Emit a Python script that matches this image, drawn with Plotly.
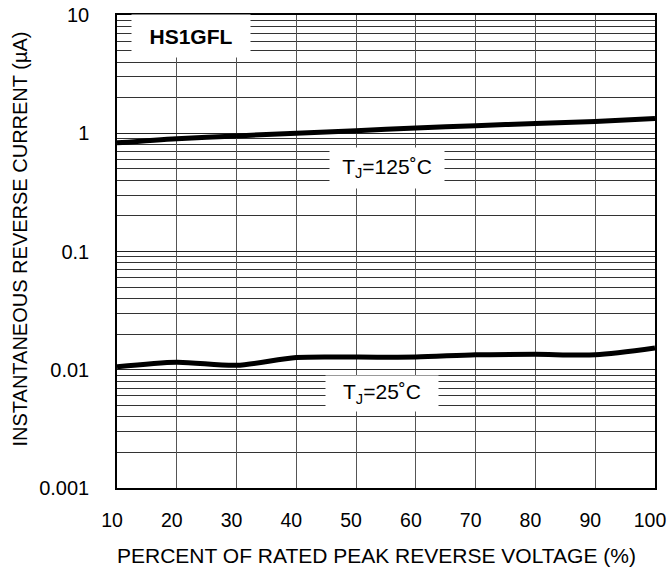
import plotly.graph_objects as go

voltage_pct = [10, 20, 30, 40, 50, 60, 70, 80, 90, 100]
current_125 = [0.83, 0.90, 0.95, 1.0, 1.05, 1.11, 1.16, 1.21, 1.26, 1.33]
current_25 = [0.0106, 0.0116, 0.0109, 0.0127, 0.0128, 0.0128, 0.0134, 0.0135, 0.0134, 0.0153]

x_ticks = [10, 20, 30, 40, 50, 60, 70, 80, 90, 100]
y_tickvals = [0.001, 0.01, 0.1, 1, 10]
y_ticktext = ["0.001", "0.01", "0.1", "1", "10"]

FONT = "Liberation Sans, Arial, sans-serif"

fig = go.Figure()
for ys in (current_125, current_25):
    fig.add_trace(go.Scatter(
        x=voltage_pct, y=ys, mode="lines",
        line=dict(color="black", width=5, shape="spline", smoothing=0.8),
        showlegend=False, hoverinfo="skip"))

fig.update_layout(
    width=668, height=571,
    margin=dict(l=117, r=13, t=15, b=83),
    paper_bgcolor="white", plot_bgcolor="white",
    font=dict(family=FONT, size=20, color="black"),
    showlegend=False,
)

fig.update_xaxes(
    range=[10, 100], tickmode="array", tickvals=x_ticks,
    ticktext=[str(v) for v in x_ticks],
    showgrid=True, gridcolor="#555", gridwidth=1,
    showline=True, linecolor="black", linewidth=1.5, mirror=True,
    ticks="", ticklen=0, zeroline=False, automargin=False,
    tickfont=dict(size=19.5), ticklabelstandoff=14, ticklabelshift=-5,
    ticklabeloverflow="allow",
    title=None,
)
fig.update_yaxes(
    type="log", range=[-3, 1], tickmode="array",
    tickvals=y_tickvals, ticktext=y_ticktext,
    showgrid=True, gridcolor="#222", gridwidth=1,
    minor=dict(dtick="D1", showgrid=True, gridcolor="#333", gridwidth=1, ticks=""),
    showline=True, linecolor="black", linewidth=1.5, mirror=True,
    ticks="", ticklen=0, zeroline=False, automargin=False,
    tickfont=dict(size=20), ticklabelstandoff=22, ticklabeloverflow="allow",
    title=None,
)

# axis titles
fig.add_annotation(text="PERCENT OF RATED PEAK REVERSE VOLTAGE (%)",
                   xref="paper", yref="paper", x=0.5, xshift=-10, y=0, yshift=-67,
                   showarrow=False, font=dict(size=21), xanchor="center", yanchor="middle")
fig.add_annotation(text="INSTANTANEOUS REVERSE CURRENT (µA)",
                   xref="paper", yref="paper", x=0, xshift=-98, y=0.5, yshift=12,
                   showarrow=False, font=dict(size=20), textangle=-90,
                   xanchor="center", yanchor="middle")

# labels
fig.add_annotation(text="<b>HS1GFL</b>", x=22.4, y=0.82, yref="y", xref="x",
                   showarrow=False, font=dict(size=21), bgcolor="white",
                   width=116, height=40)
fig.add_annotation(text="T<sub>J</sub>=125˚C", x=55.2, y=-0.294, xref="x", yref="y",
                   showarrow=False, font=dict(size=21), bgcolor="white",
                   width=112, height=38)
fig.add_annotation(text="T<sub>J</sub>=25˚C", x=54.3, y=-2.197, xref="x", yref="y",
                   showarrow=False, font=dict(size=21), bgcolor="white",
                   width=110, height=33)

fig.write_html("out.html")
